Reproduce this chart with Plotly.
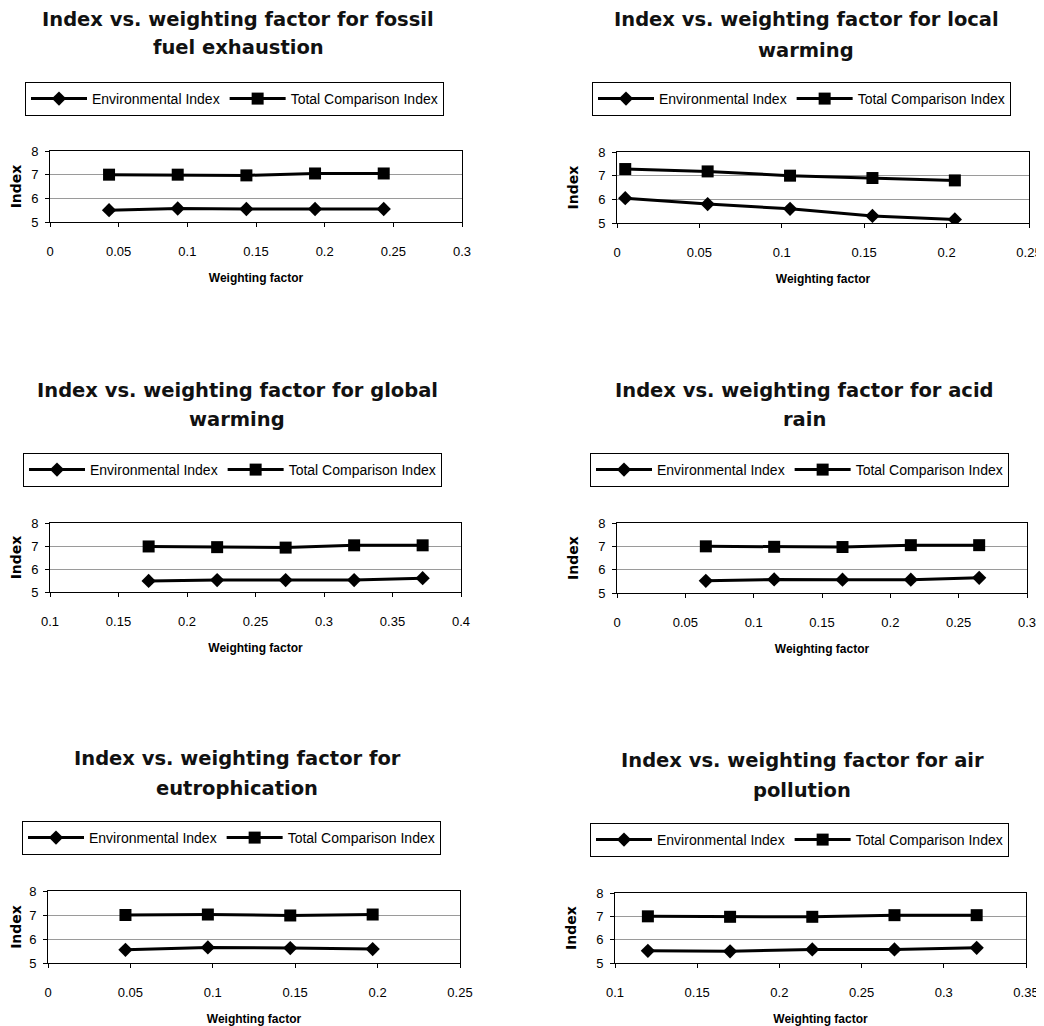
import plotly.graph_objects as go

OFF = 8  # the page body margin shifts the figure by this many pixels
W, H = 1044 - OFF, 1026 - OFF

titles = [
    ("Index vs. weighting factor for fossil", "fuel exhaustion"),
    ("Index vs. weighting factor for local", "warming"),
    ("Index vs. weighting factor for global", "warming"),
    ("Index vs. weighting factor for acid", "rain"),
    ("Index vs. weighting factor for", "eutrophication"),
    ("Index vs. weighting factor for air", "pollution"),
]

# weighting factor values per panel
wf_fossil = [0.043, 0.093, 0.143, 0.193, 0.243]
wf_local = [0.005, 0.055, 0.105, 0.155, 0.205]
wf_global = [0.172, 0.222, 0.272, 0.322, 0.372]
wf_acid = [0.065, 0.115, 0.165, 0.215, 0.265]
wf_eutro = [0.047, 0.097, 0.147, 0.197]
wf_air = [0.12, 0.17, 0.22, 0.27, 0.32]

# Environmental Index
ei_fossil = [5.50, 5.57, 5.55, 5.55, 5.55]
ei_local = [6.05, 5.80, 5.60, 5.30, 5.15]
ei_global = [5.48, 5.52, 5.52, 5.52, 5.60]
ei_acid = [5.52, 5.58, 5.57, 5.57, 5.65]
ei_eutro = [5.55, 5.65, 5.62, 5.58]
ei_air = [5.52, 5.50, 5.58, 5.58, 5.65]

# Total Comparison Index
tci_fossil = [7.00, 7.00, 6.97, 7.05, 7.05]
tci_local = [7.28, 7.18, 7.00, 6.90, 6.80]
tci_global = [6.98, 6.95, 6.93, 7.03, 7.03]
tci_acid = [7.00, 6.98, 6.97, 7.05, 7.05]
tci_eutro = [7.00, 7.02, 6.98, 7.02]
tci_air = [7.00, 6.98, 6.98, 7.05, 7.05]

# x-axis tick values per panel
xt_fossil = [0, 0.05, 0.1, 0.15, 0.2, 0.25, 0.3]
xt_local = [0, 0.05, 0.1, 0.15, 0.2, 0.25]
xt_global = [0.1, 0.15, 0.2, 0.25, 0.3, 0.35, 0.4]
xt_acid = [0, 0.05, 0.1, 0.15, 0.2, 0.25, 0.3]
xt_eutro = [0, 0.05, 0.1, 0.15, 0.2, 0.25]
xt_air = [0.1, 0.15, 0.2, 0.25, 0.3, 0.35]

yticks = [5, 6, 7, 8]

series_names = ["Environmental Index", "Total Comparison Index"]

panels = [
    (wf_fossil, ei_fossil, tci_fossil, xt_fossil),
    (wf_local, ei_local, tci_local, xt_local),
    (wf_global, ei_global, tci_global, xt_global),
    (wf_acid, ei_acid, tci_acid, xt_acid),
    (wf_eutro, ei_eutro, tci_eutro, xt_eutro),
    (wf_air, ei_air, tci_air, xt_air),
]

# layout in window pixels: plot area (left, right, top, bottom), title center x, title line y's, legend (left, top)
plot_px = [
    (50, 462, 151, 222),
    (617, 1029, 152, 223),
    (50, 461, 523, 592),
    (617, 1027, 523, 593),
    (48, 460, 891, 963),
    (615, 1026, 893, 963),
]
title_px = [
    (238, 20, 48),
    (806, 20, 50),
    (237, 390, 420),
    (804, 390, 420),
    (237, 758, 788),
    (802, 760, 790),
]
legend_px = [
    (25, 82),
    (592, 82),
    (23, 453),
    (590, 453),
    (22, 821),
    (590, 823),
]


def px_x(v):
    return (v - OFF) / W


def px_y(v):
    return 1 - (v - OFF) / H


FONT = "Liberation Sans, Arial, sans-serif"
TFONT = "DejaVu Sans, sans-serif"

fig = go.Figure()
layout = dict(
    width=W, height=H,
    margin=dict(l=0, r=0, t=0, b=0, autoexpand=False),
    paper_bgcolor="white", plot_bgcolor="white",
    font=dict(family=FONT, color="black"),
    showlegend=True,
    annotations=[],
)

for i, (wf, ei, tci, xt) in enumerate(panels):
    n = i + 1
    xa = "x" if n == 1 else f"x{n}"
    ya = "y" if n == 1 else f"y{n}"
    lg = "legend" if n == 1 else f"legend{n}"
    fig.add_trace(go.Scatter(
        x=wf, y=ei, name=series_names[0], mode="lines+markers",
        xaxis=xa, yaxis=ya, legend=lg,
        line=dict(color="black", width=3),
        marker=dict(symbol="diamond", size=11, color="black"),
    ))
    fig.add_trace(go.Scatter(
        x=wf, y=tci, name=series_names[1], mode="lines+markers",
        xaxis=xa, yaxis=ya, legend=lg,
        line=dict(color="black", width=3),
        marker=dict(symbol="square", size=12, color="black"),
    ))
    l, r, t, b = plot_px[i]
    xkey = "xaxis" if n == 1 else f"xaxis{n}"
    ykey = "yaxis" if n == 1 else f"yaxis{n}"
    layout[xkey] = dict(
        domain=[px_x(l), px_x(r)], anchor=ya, automargin=False,
        range=[xt[0], xt[-1]], tickvals=xt, ticktext=[f"{v:g}" for v in xt],
        showgrid=False, zeroline=False,
        showline=True, linecolor="black", linewidth=1, mirror=True,
        ticks="outside", ticklen=4, tickcolor="black",
        ticklabelstandoff=13,
        tickfont=dict(size=13, family=FONT),
        title=dict(text="<b>Weighting factor</b>", font=dict(size=12, family=FONT), standoff=16),
    )
    layout[ykey] = dict(
        domain=[px_y(b), px_y(t)], anchor=xa, automargin=False,
        range=[5, 8], tickvals=yticks,
        showgrid=True, gridcolor="#9a9a9a", gridwidth=1, zeroline=False,
        showline=True, linecolor="black", linewidth=1, mirror=True,
        ticks="outside", ticklen=4, tickcolor="black",
        ticklabelstandoff=4,
        tickfont=dict(size=13, family=FONT),
        title=dict(text="<b>Index</b>", font=dict(size=14, family=TFONT), standoff=16),
    )
    lx, ly = legend_px[i]
    layout[lg] = dict(
        x=px_x(lx), y=px_y(ly), xanchor="left", yanchor="top",
        orientation="h", bordercolor="black", borderwidth=1, bgcolor="white",
        font=dict(size=14, family=FONT), itemwidth=56,
    )
    cx, y1, y2 = title_px[i]
    t1, t2 = titles[i]
    for txt, yy in ((t1, y1), (t2, y2)):
        layout["annotations"].append(dict(
            text=f"<b>{txt}</b>", x=px_x(cx), y=px_y(yy), xref="paper", yref="paper",
            xanchor="center", yanchor="middle", showarrow=False,
            font=dict(size=19.5, family=TFONT, color="#111"),
        ))

fig.update_layout(**layout)
fig.write_html("out.html")
